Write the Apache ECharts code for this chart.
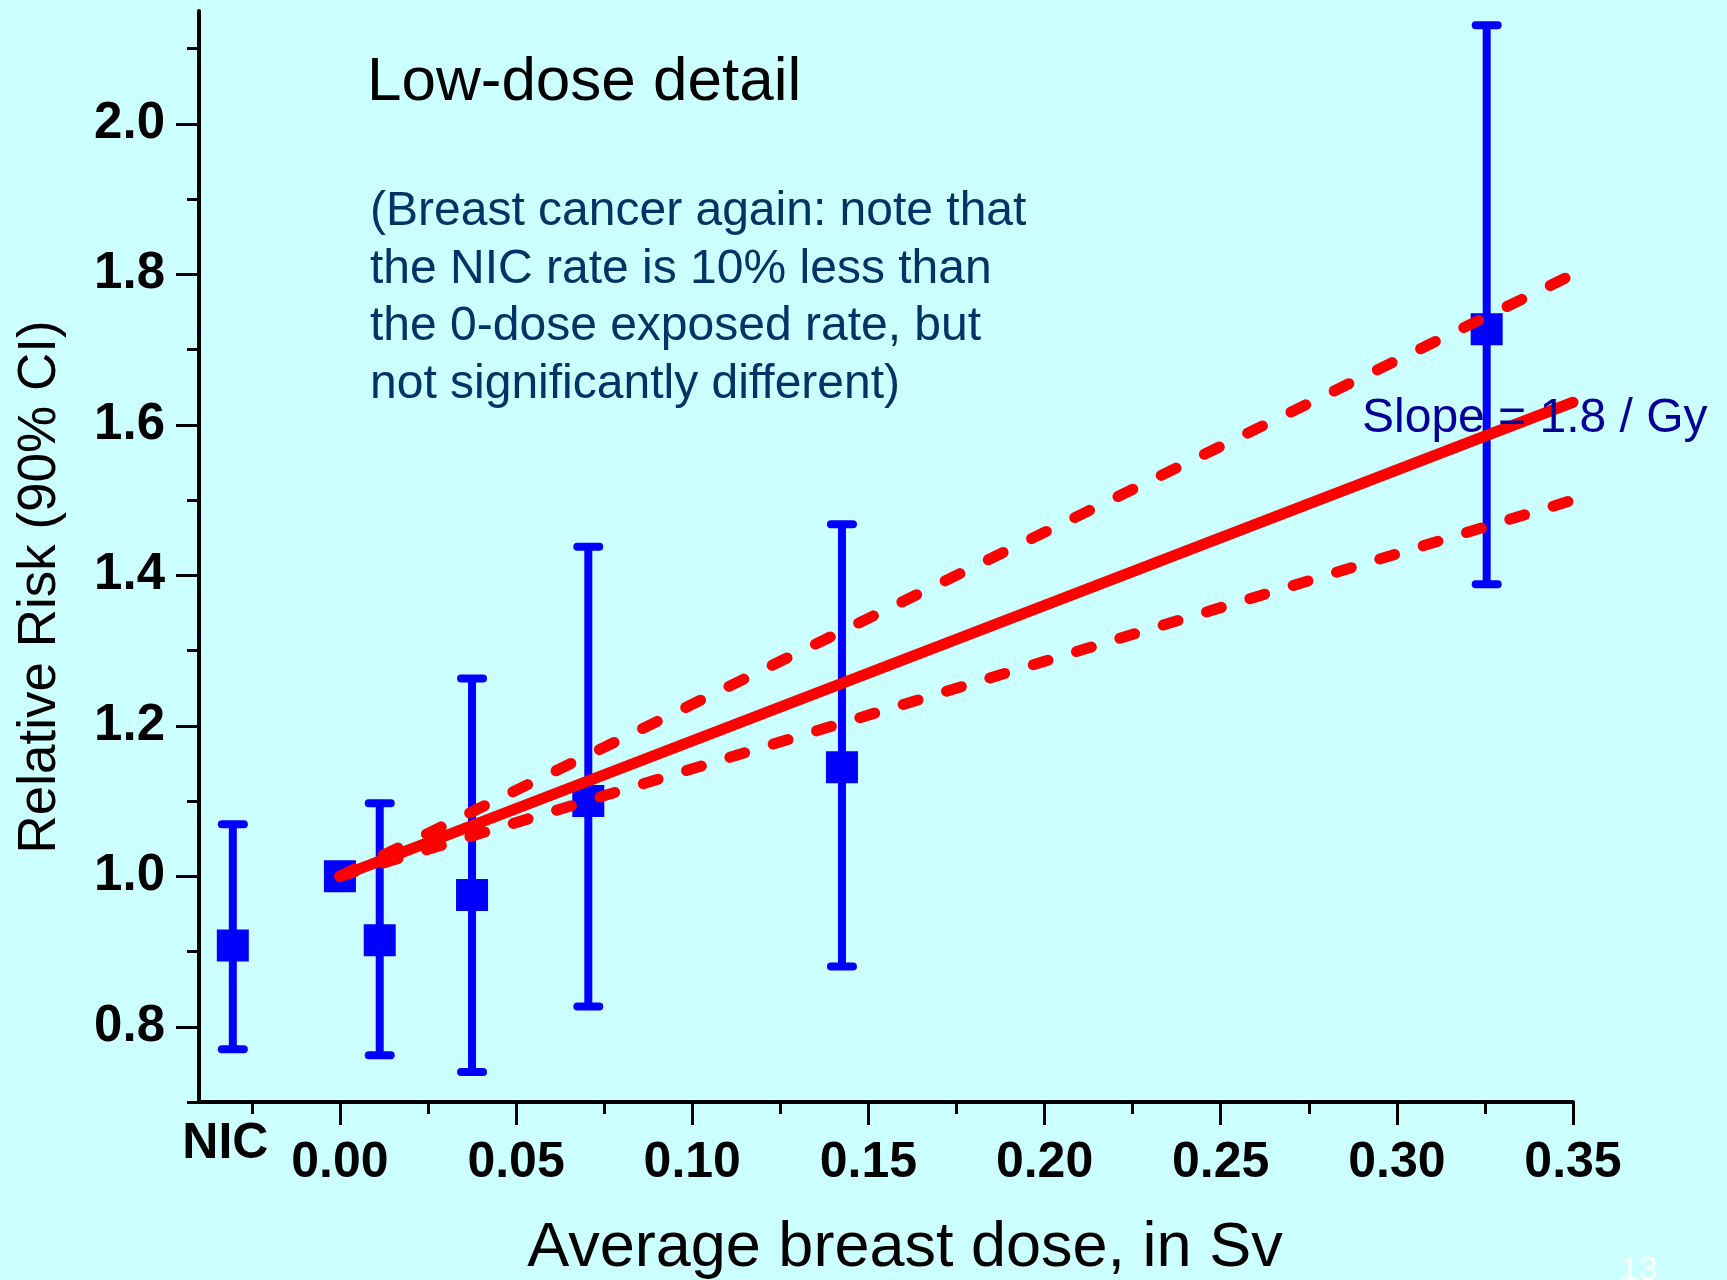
<!DOCTYPE html>
<html>
<head>
<meta charset="utf-8">
<title>Low-dose detail</title>
<script src="https://cdn.jsdelivr.net/npm/echarts@6/dist/echarts.min.js"></script>
<style>
  html, body { margin: 0; padding: 0; background: #ccffff; }
  #chart { width: 1727px; height: 1280px; }
</style>
</head>
<body>
<div id="chart"></div>
<script>
// Groups: the non-exposed comparison (NIC) and the dose categories
var groups   = ['NIC', '0 Sv', 'dose 1', 'dose 2', 'dose 3', 'dose 4', 'dose 5'];
// Plotting position on the dose axis (NIC sits left of zero)
var doseSv   = [-0.0304, 0, 0.0113, 0.0375, 0.0705, 0.1425, 0.3255];
// Relative risk and 90% confidence limits
var relRisk  = [0.908, 1.0, 0.915, 0.975, 1.100, 1.145, 1.727];
var ciLow    = [0.770, null, 0.762, 0.740, 0.827, 0.880, 1.388];
var ciHigh   = [1.069, null, 1.097, 1.263, 1.438, 1.468, 2.131];

// Linear fit (slope 1.8 / Gy) and its confidence band
var fitDose  = [0, 0.35];
var fitRR    = [1.0, 1.63];
var upperRR  = [1.0, 1.80];
var lowerRR  = [1.0, 1.50];

// Axis ticks and labels
var xMajor   = [0, 0.05, 0.10, 0.15, 0.20, 0.25, 0.30, 0.35];
var xMinor   = [-0.025, 0.025, 0.075, 0.125, 0.175, 0.225, 0.275, 0.325];
var xNicPos  = [-0.0325];
var yMajor   = [0.8, 1.0, 1.2, 1.4, 1.6, 1.8, 2.0];
var yMinor   = [0.7, 0.9, 1.1, 1.3, 1.5, 1.7, 1.9, 2.1];

var FONT = "'Liberation Sans', Arial, Helvetica, sans-serif";

var pointData = doseSv.map(function (d, i) { return [d, relRisk[i], groups[i]]; });
var barData = [];
doseSv.forEach(function (d, i) {
  if (ciLow[i] != null && ciHigh[i] != null) barData.push([d, ciLow[i], ciHigh[i]]);
});
function pairs(xs, ys) { return xs.map(function (x, i) { return [x, ys[i]]; }); }

var chart = echarts.init(document.getElementById('chart'), null, { renderer: 'canvas' });

var redLine = function (dash) {
  return {
    color: '#ff0000', width: 11, cap: 'round', join: 'round', opacity: 1,
    type: dash || 'solid', dashOffset: 0
  };
};

chart.setOption({
  backgroundColor: '#ccffff',
  animation: false,
  textStyle: { fontFamily: FONT },
  grid: { left: 199, right: 154, top: 11, bottom: 178, containLabel: false, outerBoundsMode: 'none' },
  xAxis: [
    {
      type: 'value', min: -0.04, max: 0.35, position: 'bottom',
      axisLine: { show: true, onZero: false, lineStyle: { color: '#000', width: 4 } },
      axisTick: { show: true, length: 23, customValues: xMajor, lineStyle: { color: '#000', width: 3 } },
      axisLabel: {
        customValues: xMajor, margin: 36, color: '#000', fontFamily: FONT,
        fontSize: 50, fontWeight: 'bold', lineHeight: 50,
        formatter: function (v) { return v.toFixed(2); }
      },
      splitLine: { show: false },
      name: 'Average breast dose, in Sv', nameLocation: 'middle', nameGap: 115,
      nameTextStyle: { color: '#000', fontFamily: FONT, fontSize: 63, lineHeight: 63, padding: [0, 0, 0, 38] }
    },
    {
      type: 'value', min: -0.04, max: 0.35, position: 'bottom',
      axisLine: { show: false, onZero: false },
      axisTick: { show: true, length: 12, customValues: xMinor, lineStyle: { color: '#000', width: 3 } },
      axisLabel: {
        customValues: xNicPos, margin: 17, color: '#000', fontFamily: FONT,
        fontSize: 50, fontWeight: 'bold', lineHeight: 50,
        formatter: function () { return groups[0]; }
      },
      splitLine: { show: false }
    }
  ],
  yAxis: [
    {
      type: 'value', min: 0.7, max: 2.15, position: 'left',
      axisLine: { show: true, onZero: false, lineStyle: { color: '#000', width: 4 } },
      axisTick: { show: true, length: 23, customValues: yMajor, lineStyle: { color: '#000', width: 3 } },
      axisLabel: {
        customValues: yMajor, margin: 34, color: '#000', fontFamily: FONT,
        fontSize: 51, fontWeight: 'bold', lineHeight: 51,
        formatter: function (v) { return v.toFixed(1); }
      },
      splitLine: { show: false },
      name: 'Relative Risk (90% CI)', nameLocation: 'middle', nameGap: 132, nameRotate: 90,
      nameTextStyle: { color: '#000', fontFamily: FONT, fontSize: 53, lineHeight: 53, padding: [0, 61, 0, 0] }
    },
    {
      type: 'value', min: 0.7, max: 2.15, position: 'left',
      axisLine: { show: false, onZero: false },
      axisTick: { show: true, length: 12, customValues: yMinor, lineStyle: { color: '#000', width: 3 } },
      axisLabel: { show: false },
      splitLine: { show: false }
    }
  ],
  series: [
    {
      name: 'CI', type: 'custom', xAxisIndex: 0, yAxisIndex: 0, z: 2,
      data: barData,
      encode: { x: 0, y: [1, 2] },
      renderItem: function (params, api) {
        var x = api.value(0);
        var top = api.coord([x, api.value(2)]);
        var bot = api.coord([x, api.value(1)]);
        var half = 11;
        var st = { stroke: '#0000ff', lineWidth: 8, lineCap: 'round' };
        return {
          type: 'group',
          children: [
            { type: 'line', shape: { x1: top[0], y1: top[1], x2: bot[0], y2: bot[1] }, style: { stroke: '#0000ff', lineWidth: 8 } },
            { type: 'line', shape: { x1: top[0] - half, y1: top[1], x2: top[0] + half, y2: top[1] }, style: st },
            { type: 'line', shape: { x1: bot[0] - half, y1: bot[1], x2: bot[0] + half, y2: bot[1] }, style: st }
          ]
        };
      }
    },
    {
      name: 'Relative risk', type: 'scatter', xAxisIndex: 0, yAxisIndex: 0, z: 3,
      symbol: 'rect', symbolSize: 32,
      itemStyle: { color: '#0000ff', opacity: 1 },
      emphasis: { disabled: true },
      data: pointData
    },
    {
      name: 'Upper limit', type: 'line', xAxisIndex: 0, yAxisIndex: 0, z: 4,
      showSymbol: false, symbol: 'none', clip: true,
      lineStyle: redLine([16.5, 31.6]),
      data: pairs(fitDose, upperRR)
    },
    {
      name: 'Lower limit', type: 'line', xAxisIndex: 0, yAxisIndex: 0, z: 4,
      showSymbol: false, symbol: 'none', clip: true,
      lineStyle: redLine([15.5, 29.8]),
      data: pairs(fitDose, lowerRR)
    },
    {
      name: 'Fit', type: 'line', xAxisIndex: 0, yAxisIndex: 0, z: 5,
      showSymbol: false, symbol: 'none', clip: true,
      lineStyle: redLine(),
      data: pairs(fitDose, fitRR)
    }
  ],
  graphic: [
    {
      type: 'text', x: 367, y: 83, z: 100,
      style: { text: 'Low-dose detail', font: '62px ' + FONT, fill: '#000', align: 'left', verticalAlign: 'middle' }
    },
    {
      type: 'text', x: 370, y: 183, z: 100,
      style: {
        text: '(Breast cancer again: note that\nthe NIC rate is 10% less than\nthe 0-dose exposed rate, but\nnot significantly different)',
        font: '48px ' + FONT, fill: '#003366', align: 'left', verticalAlign: 'top', lineHeight: 57.6
      }
    },
    {
      type: 'text', x: 1362, y: 419, z: 100,
      style: { text: 'Slope = 1.8 / Gy', font: '48px ' + FONT, fill: '#000099', align: 'left', verticalAlign: 'middle' }
    },
    {
      type: 'text', x: 1620, y: 1271, z: 100,
      style: { text: '13', font: '34px ' + FONT, fill: '#ffffff', align: 'left', verticalAlign: 'middle' }
    }
  ]
});
</script>
</body>
</html>
